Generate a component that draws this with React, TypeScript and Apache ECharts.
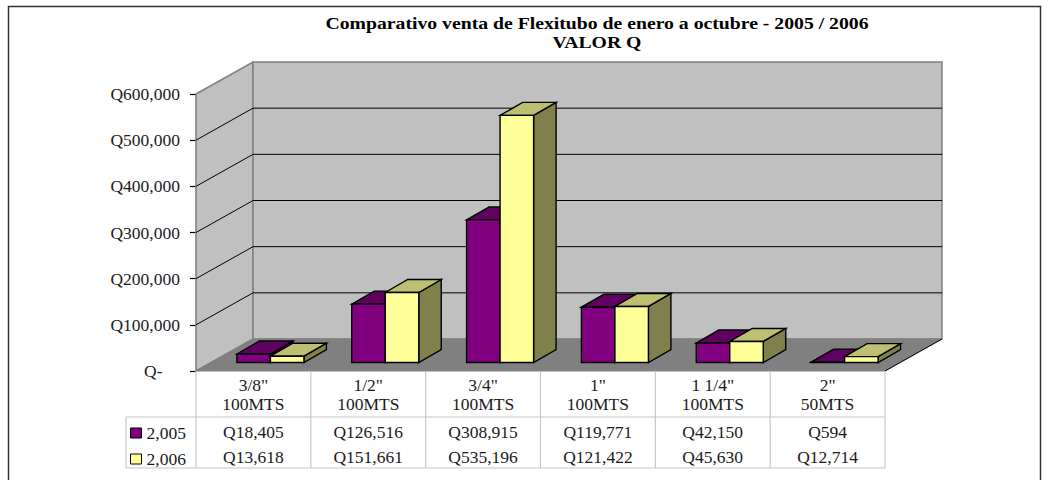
import React, { useEffect, useRef } from "react";
import * as echarts from "echarts";

const titleLines = ["Comparativo venta de Flexitubo de enero a octubre - 2005 / 2006", "VALOR Q"];
const categories = ['3/8"\n100MTS', '1/2"\n100MTS', '3/4"\n100MTS', '1"\n100MTS', '1 1/4"\n100MTS', '2"\n50MTS'];
const values2005 = [18405, 126516, 308915, 119771, 42150, 594];
const values2006 = [13618, 151661, 535196, 121422, 45630, 12714];
const yTicks = [0, 100000, 200000, 300000, 400000, 500000, 600000];
const seriesNames = ["2,005", "2,006"];

const FONT = "'Liberation Serif', 'Times New Roman', serif";
const TEXT = "#1a1a1a";
const G = { left: 196, top: 94, width: 689, height: 277 };
const WALL_DX = 57, WALL_DY = 32;
const INSET_DX = 17, INSET_DY = 8.5;
const BAR_W = 33.5, BAR_DX = 22.5, BAR_DY = 13;
const TABLE_LEFT = 126, TABLE_MID = 417, TABLE_BOTTOM = 468;
const ROW_Y = [432, 457];
const TITLE_Y = [23, 42];

const PAL = [
  { front: "#800080", top: "#600060", side: "#600060" },
  { front: "#FFFF99", top: "#BFBF73", side: "#80804D" },
];

const money = (v: number) => "Q" + v.toLocaleString("en-US");

const poly = (points: number[][], fill: string, stroke = "#000", lineWidth = 1.4) => ({
  type: "polygon",
  shape: { points },
  style: { fill, stroke, lineWidth, lineJoin: "miter" },
});

function renderFrame(params: any, api: any) {
  const cs = params.coordSys;
  const l = cs.x, r = cs.x + cs.width, t = cs.y, b = cs.y + cs.height;
  const wall = "#808080";
  const kids: any[] = [
    poly([[l, t], [l + WALL_DX, t - WALL_DY], [l + WALL_DX, b - WALL_DY], [l, b]], "#C0C0C0", wall, 1.5),
    poly([[l + WALL_DX, t - WALL_DY], [r + WALL_DX, t - WALL_DY], [r + WALL_DX, b - WALL_DY], [l + WALL_DX, b - WALL_DY]], "#C0C0C0", wall, 1.5),
    poly([[l, b], [r, b], [r + WALL_DX, b - WALL_DY], [l + WALL_DX, b - WALL_DY]], "#808080", "#808080", 1),
    { type: "line", shape: { x1: r, y1: b, x2: r + WALL_DX, y2: b - WALL_DY }, style: { stroke: "#000", lineWidth: 1 } },
  ];
  yTicks.slice(1, -1).forEach((tick) => {
    const y = api.coord([0, tick])[1];
    kids.push({ type: "polyline", shape: { points: [[l, y], [l + WALL_DX, y - WALL_DY], [r + WALL_DX, y - WALL_DY]] }, style: { stroke: "#000", lineWidth: 1, fill: "none" } });
  });
  const grid = "#c8c8c8";
  const hline = (y: number, x1: number) => ({ type: "line", shape: { x1, y1: y, x2: r, y2: y }, style: { stroke: grid, lineWidth: 1.2 } });
  kids.push(hline(TABLE_MID, TABLE_LEFT), hline(TABLE_BOTTOM, TABLE_LEFT));
  kids.push({ type: "line", shape: { x1: TABLE_LEFT, y1: TABLE_MID, x2: TABLE_LEFT, y2: TABLE_BOTTOM }, style: { stroke: grid, lineWidth: 1.2 } });
  categories.forEach((_, i) => {
    const x = l + (cs.width * i) / categories.length;
    kids.push({ type: "line", shape: { x1: x, y1: b, x2: x, y2: TABLE_BOTTOM }, style: { stroke: grid, lineWidth: 1.2 } });
  });
  kids.push({ type: "line", shape: { x1: r, y1: b, x2: r, y2: TABLE_BOTTOM }, style: { stroke: grid, lineWidth: 1.2 } });
  return { type: "group", children: kids };
}

const renderBar = (seriesIdx: number) => (params: any, api: any) => {
  const top = api.coord([api.value(0), api.value(1)]);
  const base = api.coord([api.value(0), 0]);
  const x0 = top[0] + INSET_DX + (seriesIdx === 0 ? -BAR_W : 0);
  const x1 = x0 + BAR_W;
  const yT = top[1] - INSET_DY;
  const yB = base[1] - INSET_DY;
  const c = PAL[seriesIdx];
  return {
    type: "group",
    children: [
      poly([[x1, yT], [x1 + BAR_DX, yT - BAR_DY], [x1 + BAR_DX, yB - BAR_DY], [x1, yB]], c.side),
      poly([[x0, yT], [x0 + BAR_DX, yT - BAR_DY], [x1 + BAR_DX, yT - BAR_DY], [x1, yT]], c.top),
      poly([[x0, yT], [x1, yT], [x1, yB], [x0, yB]], c.front),
      {
        type: "text",
        style: {
          x: top[0], y: ROW_Y[seriesIdx], text: money(api.value(1)),
          font: `17.5px ${FONT}`, fill: TEXT, align: "center", verticalAlign: "middle",
        },
      },
    ],
  };
};

export default function App() {
  const ref = useRef<HTMLDivElement>(null);
  useEffect(() => {
    document.body.style.margin = "0";
    const chart = echarts.init(ref.current!, null, { renderer: "svg" });
    chart.setOption({
      animation: false,
      backgroundColor: "#fff",
      textStyle: { fontFamily: FONT },
      graphic: [
        {
          type: "rect", z: -10,
          shape: { x: 8.5, y: 6.5, width: 1032, height: 490 },
          style: { fill: "#fff", stroke: "#333", lineWidth: 1.5 },
        },
        ...titleLines.map((text, i) => ({
          type: "text", x: 597, y: TITLE_Y[i], scaleX: 1.16, z: 10,
          style: { text, font: `bold 17px ${FONT}`, fill: "#000", align: "center", verticalAlign: "middle" },
        })),
      ],
      legend: {
        orient: "vertical", left: 130, top: 424, itemWidth: 11, itemHeight: 10, itemGap: 8, padding: 0,
        selectedMode: false,
        data: seriesNames.map((name, i) => ({
          name, icon: "rect",
          itemStyle: { color: PAL[i].front, borderColor: "#000", borderWidth: 1 },
        })),
        textStyle: { fontFamily: FONT, fontSize: 17.5, color: TEXT },
      },
      grid: { left: G.left, top: G.top, width: G.width, height: G.height },
      xAxis: {
        type: "category", data: categories,
        axisLine: { show: false }, axisTick: { show: false },
        axisLabel: { fontFamily: FONT, fontSize: 17.5, lineHeight: 19, color: TEXT, margin: 4, interval: 0 },
      },
      yAxis: {
        type: "value", min: 0, max: 600000, interval: 100000,
        axisLine: { show: true, lineStyle: { color: "#000", width: 1.2 } },
        axisTick: { show: true, length: 6, lineStyle: { color: "#000", width: 1.2 } },
        splitLine: { show: false },
        axisLabel: {
          fontFamily: FONT, fontSize: 17.5, color: TEXT, margin: 16,
          formatter: (v: number) => (v === 0 ? "Q-\u00a0\u00a0\u00a0\u00a0" : money(v)),
        },
      },
      series: [
        { type: "custom", name: "frame", z: 1, silent: true, renderItem: renderFrame, data: [[0, 0]], encode: { x: 0, y: 1 } },
        { type: "custom", name: seriesNames[0], z: 2, itemStyle: { color: PAL[0].front }, renderItem: renderBar(0), data: values2005.map((v, i) => [i, v]), encode: { x: 0, y: 1 } },
        { type: "custom", name: seriesNames[1], z: 3, itemStyle: { color: PAL[1].front }, renderItem: renderBar(1), data: values2006.map((v, i) => [i, v]), encode: { x: 0, y: 1 } },
      ],
    });
    return () => chart.dispose();
  }, []);
  return <div ref={ref} style={{ width: 1048, height: 480 }} />;
}
